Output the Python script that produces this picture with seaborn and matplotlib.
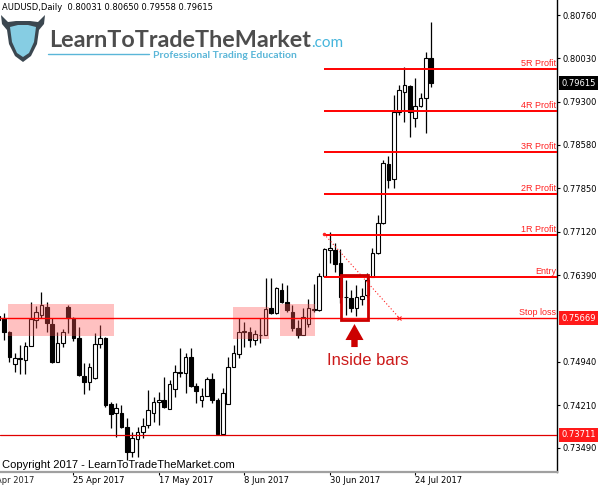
import numpy as np
import pandas as pd
import matplotlib
matplotlib.use("Agg")
import matplotlib.pyplot as plt
import seaborn as sns
from matplotlib.patches import Rectangle, Polygon

# ---------------- data ----------------
first_bar = -1
opens = [0.75706, 0.75673, 0.75443, 0.74900, 0.74990, 0.74967, 0.75207, 0.75639, 0.75723, 0.75862,
         0.75567, 0.74939, 0.75247, 0.75862, 0.75668, 0.75332, 0.74698, 0.74603, 0.74659, 0.75236,
         0.75342, 0.74224, 0.74073, 0.74086, 0.73848, 0.73427, 0.73636, 0.73763, 0.73876, 0.74083,
         0.74257, 0.74296, 0.74139, 0.74476, 0.74744, 0.74754, 0.75012, 0.74536, 0.74296, 0.74363,
         0.74644, 0.74296, 0.73725, 0.74229, 0.74855, 0.75068, 0.75440, 0.75443, 0.75303, 0.75385,
         0.75387, 0.75836, 0.75752, 0.76143, 0.75946, 0.75780, 0.75500, 0.75387, 0.75572, 0.75815,
         0.75799, 0.76378, 0.76814, 0.76814, 0.76591, 0.76025, 0.76003, 0.75836, 0.75987, 0.76059,
         0.76366, 0.76759, 0.77263, 0.78253, 0.78002, 0.79137, 0.79462, 0.79573, 0.79026, 0.79237,
         0.79362, 0.80031]
highs = [0.75740, 0.75757, 0.75450, 0.75085, 0.75219, 0.75274, 0.75946, 0.75879, 0.76114, 0.75946,
         0.75668, 0.75443, 0.75488, 0.75891, 0.75694, 0.75527, 0.74912, 0.74912, 0.75415, 0.75555,
         0.75359, 0.74267, 0.74241, 0.74212, 0.73989, 0.73763, 0.73838, 0.73989, 0.74464, 0.74351,
         0.74435, 0.74687, 0.74632, 0.74884, 0.75164, 0.75080, 0.75164, 0.74577, 0.74493, 0.74687,
         0.74754, 0.74330, 0.74493, 0.75023, 0.75219, 0.75668, 0.75610, 0.75527, 0.75471, 0.75668,
         0.76340, 0.76340, 0.76198, 0.76260, 0.76227, 0.75891, 0.75639, 0.75836, 0.75992, 0.76239,
         0.76436, 0.76843, 0.77122, 0.76937, 0.76826, 0.76311, 0.76143, 0.76227, 0.76171, 0.76424,
         0.76843, 0.77402, 0.78326, 0.78393, 0.79417, 0.79585, 0.79892, 0.79585, 0.79697, 0.79446,
         0.80144, 0.80650]
lows = [0.75600, 0.75303, 0.74939, 0.74766, 0.74732, 0.74732, 0.75200, 0.75500, 0.75668, 0.75443,
        0.74912, 0.74929, 0.75190, 0.75415, 0.75286, 0.74703, 0.74397, 0.74464, 0.74650, 0.75163,
        0.74183, 0.73821, 0.73680, 0.73821, 0.73288, 0.73344, 0.73344, 0.73652, 0.73821, 0.73932,
        0.73876, 0.74156, 0.74139, 0.74351, 0.74677, 0.74409, 0.74519, 0.74241, 0.74173, 0.74363,
        0.74241, 0.73711, 0.73718, 0.74229, 0.74850, 0.75001, 0.75190, 0.75190, 0.75219, 0.75247,
        0.75380, 0.75745, 0.75745, 0.75930, 0.75779, 0.75454, 0.75332, 0.75380, 0.75527, 0.75769,
        0.75790, 0.76361, 0.76591, 0.76450, 0.75921, 0.75723, 0.75779, 0.75706, 0.75891, 0.76030,
        0.76360, 0.76748, 0.77255, 0.77850, 0.77850, 0.79081, 0.78959, 0.78717, 0.78885, 0.79220,
        0.78774, 0.79558]
closes = [0.75639, 0.75438, 0.75022, 0.75001, 0.74996, 0.75207, 0.75656, 0.75768, 0.75891, 0.75584,
          0.74939, 0.75247, 0.75433, 0.75668, 0.75332, 0.74715, 0.74603, 0.74855, 0.75236, 0.75342,
          0.74212, 0.74061, 0.74167, 0.73848, 0.73427, 0.73652, 0.73763, 0.73860, 0.74128, 0.74267,
          0.74296, 0.74173, 0.74565, 0.74761, 0.74761, 0.75012, 0.74536, 0.74447, 0.74363, 0.74644,
          0.74296, 0.73725, 0.74419, 0.74855, 0.75080, 0.75443, 0.75447, 0.75303, 0.75404, 0.75390,
          0.75824, 0.75752, 0.76171, 0.75946, 0.75807, 0.75500, 0.75387, 0.75685, 0.75836, 0.75830,
          0.76383, 0.76826, 0.76843, 0.76579, 0.76030, 0.76020, 0.75836, 0.76020, 0.76042, 0.76311,
          0.76759, 0.77273, 0.78270, 0.77990, 0.79137, 0.79501, 0.79585, 0.79127, 0.79237, 0.79362,
          0.80031, 0.79615]

date_labels = ["3 Apr 2017", "25 Apr 2017", "17 May 2017", "8 Jun 2017", "30 Jun 2017", "24 Jul 2017"]
date_tick_bars = [-3, 13, 29, 45, 61, 77]
price_ticks = [0.80760, 0.80030, 0.79300, 0.78580, 0.77850, 0.77120,
               0.76390, 0.74940, 0.74210, 0.73490]

stop_loss = 0.75669
support_price = 0.73711
last_price = 0.79615
level_names = ["Entry", "1R Profit", "2R Profit", "3R Profit", "4R Profit", "5R Profit"]
level_prices = [0.76366, 0.77063, 0.77760, 0.78457, 0.79154, 0.79851]
levels_start_bar = 59.93

zone_bar_start = [0.75, 42.83, 51.69]
zone_bar_end = [20.6, 49.68, 58.24]
zone_low = [0.75376, 0.75320, 0.75370]
zone_high = [0.75908, 0.75853, 0.75908]

inside_bar_start, inside_bar_end = 63.05, 68.22
inside_low, inside_high = 0.75639, 0.76395

trend_bars = [59.93, 74.03]
trend_prices = [0.77083, 0.75673]

header = "AUDUSD,Daily  0.80031 0.80650 0.79558 0.79615"

# ---------------- figure ----------------
sns.set_theme(style="white")
plt.rcParams['font.family'] = ['DejaVu Sans']

W, H = 602, 487
fig = plt.figure(figsize=(W / 100, H / 100), dpi=100)
fig.patch.set_facecolor('white')
ax = fig.add_axes([0, 15 / H, 557 / W, 472 / H])
ax.set_facecolor('white')

df = pd.DataFrame(dict(bar=np.arange(first_bar, first_bar + len(opens)),
                       open=opens, high=highs, low=lows, close=closes))
bull = df['close'] >= df['open']
body_lo = np.minimum(df['open'], df['close'])
body_h = np.maximum(np.abs(df['close'] - df['open']), 0.00003)

ax.vlines(df['bar'], df['low'], df['high'], color='black', lw=0.9, zorder=2)
ax.bar(df['bar'][bull], body_h[bull], bottom=body_lo[bull], width=0.68,
       color='white', edgecolor='black', linewidth=0.8, zorder=3)
ax.bar(df['bar'][~bull], body_h[~bull], bottom=body_lo[~bull], width=0.68,
       color='black', edgecolor='black', linewidth=0.8, zorder=3)

x_min, x_max = -0.75, 103.56
ax.set_xlim(x_min, x_max)
ax.set_ylim(0.73087, 0.81012)

# zones
for x0, x1, y0, y1 in zip(zone_bar_start, zone_bar_end, zone_low, zone_high):
    ax.add_patch(Rectangle((x0, y0), x1 - x0, y1 - y0, facecolor=(1, 0.33, 0.33),
                           alpha=0.36, edgecolor='none', zorder=4))

# horizontal lines
ax.axhline(stop_loss, color='#ff0000', lw=1.0, zorder=5)
ax.axhline(support_price, color='#e00000', lw=0.9, zorder=5)
ax.hlines(level_prices, levels_start_bar, x_max, color='#ff0000', lw=1.4, zorder=5)

lab_font = dict(fontsize=6.5, color='#ff2020', family=['Liberation Sans', 'DejaVu Sans'])
for name, price in zip(level_names + ["Stop loss"], level_prices + [stop_loss]):
    ax.annotate(name, xy=(103.35, price), xytext=(0, 0.6), textcoords='offset points',
                ha='right', va='bottom', zorder=7, **lab_font)

# trend line (dotted)
ax.plot(trend_bars, trend_prices, ls=(0, (1, 2)), color='#ff2020', lw=0.8, zorder=5)
ax.plot(trend_bars[1], trend_prices[1], marker='x', ms=3, color='#ff2020', mew=0.8, zorder=5)
ax.plot(trend_bars[0], trend_prices[0], marker='.', ms=3, color='#ff2020', zorder=5)

# inside bars box
ax.add_patch(Rectangle((inside_bar_start, inside_low), inside_bar_end - inside_bar_start,
                       inside_high - inside_low, fill=False, edgecolor='#cc0000',
                       lw=2.0, zorder=6))

# arrow (below the box)
cx = (inside_bar_start + inside_bar_end) / 2
tip, base, tail = 0.75572, 0.75303, 0.75185
hw, sw = 1.69, 0.6
ax.add_patch(Polygon([(cx, tip), (cx + hw, base), (cx + sw, base), (cx + sw, tail),
                      (cx - sw, tail), (cx - sw, base), (cx - hw, base)],
                     closed=True, facecolor='#cc0000', edgecolor='none', zorder=6))
ax.text(60.5, 0.74967, "Inside bars", fontsize=12, color='#cc1a1a', ha='left', va='center',
        family=['Liberation Sans', 'DejaVu Sans'], zorder=7)

# spines and axes
for s in ['left', 'top']:
    ax.spines[s].set_visible(False)
ax.spines['right'].set_color('black')
ax.spines['right'].set_linewidth(1.0)
ax.spines['bottom'].set_color('#a0a0a0')
ax.spines['bottom'].set_linewidth(1.6)

ax.yaxis.tick_right()
ax.set_yticks(price_ticks)
ax.set_yticklabels([f"{v:.5f}" for v in price_ticks])
ax.tick_params(axis='y', which='both', right=True, left=False, length=2.2, width=0.8,
               pad=1.5, labelsize=6, colors='black')

ax.set_xticks(date_tick_bars[1:])
ax.set_xticklabels(date_labels[1:])
ax.tick_params(axis='x', which='both', bottom=True, length=2.5, width=0.8, pad=0.6,
               labelsize=6, colors='black')
for t in ax.get_xticklabels():
    t.set_ha('left')
ax.annotate(date_labels[0], xy=(date_tick_bars[0], 0), xycoords=('data', 'axes fraction'),
            xytext=(0, -3.1), textcoords='offset points', ha='left', va='top', fontsize=6,
            annotation_clip=False)
ax.grid(False)

# price boxes on the right axis
box_specs = [(last_price, 'black'), (stop_loss, '#ff1a1a'), (support_price, '#ff1a1a')]
for price, col in box_specs:
    ax.annotate(f"{price:.5f}", xy=(1, price), xycoords=('axes fraction', 'data'),
                xytext=(3.2, 0), textcoords='offset points', ha='left', va='center',
                fontsize=6, color='white', annotation_clip=False, zorder=10,
                bbox=dict(boxstyle='square,pad=0.3', fc=col, ec='none'))

# ---------------- overlay (header, logo, copyright) ----------------
ov = fig.add_axes([0, 0, 1, 1], zorder=5)
ov.set_xlim(0, W)
ov.set_ylim(H, 0)
ov.axis('off')
ov.patch.set_alpha(0)

ov.text(2, 7, header, fontsize=6, color='black', ha='left', va='center')
ov.text(2, 465, "Copyright 2017 - LearnToTradeTheMarket.com", fontsize=8, color='black',
        ha='left', va='center', family=['Liberation Sans', 'DejaVu Sans'])

outer = [(1, 15), (8, 22), (16, 21), (30, 21), (38, 22), (45, 15), (44, 24), (39, 30),
         (37, 44), (31, 56), (23, 62), (15, 56), (9, 44), (7, 30), (2, 24)]
inner = [(10, 27), (18, 25), (28, 25), (36, 27), (34, 42), (29, 53), (23, 57), (17, 53), (12, 42)]
ov.add_patch(Polygon(outer, closed=True, facecolor='#3b4750', edgecolor='none'))
ov.add_patch(Polygon(inner, closed=True, facecolor='#86cde3', edgecolor='none'))

ov.text(49, 47, "LearnToTradeTheMarket", fontsize=16.8, fontweight='bold', color='#4d4d4d',
        ha='left', va='baseline', family=['Lato', 'DejaVu Sans'])
ov.text(311, 47, ".com", fontsize=11, color='#45b5dc', ha='left', va='baseline',
        family=['Lato', 'DejaVu Sans'])
ov.plot([48, 149], [54, 54], color='#5ab6d8', lw=1)
ov.text(153, 58, "Professional Trading Education", fontsize=7.5, fontweight='bold',
        color='#5ab6d8', ha='left', va='baseline', family=['Lato', 'DejaVu Sans'])

fig.savefig("out.png", dpi=100)
